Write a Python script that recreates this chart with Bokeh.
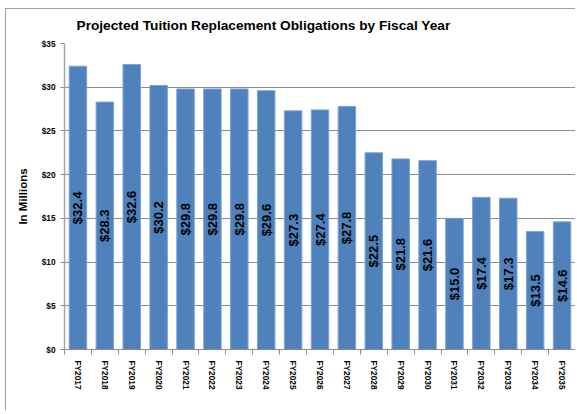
import math
from bokeh.plotting import figure
from bokeh.models import ColumnDataSource, FixedTicker, Range1d
from bokeh.core.properties import value
from bokeh.embed import file_html
from bokeh.resources import INLINE

title_text = "Projected Tuition Replacement Obligations by Fiscal Year"
y_axis_label = "In Millions"
years = ["FY2017", "FY2018", "FY2019", "FY2020", "FY2021", "FY2022", "FY2023",
         "FY2024", "FY2025", "FY2026", "FY2027", "FY2028", "FY2029", "FY2030",
         "FY2031", "FY2032", "FY2033", "FY2034", "FY2035"]
values = [32.4, 28.3, 32.6, 30.2, 29.8, 29.8, 29.8, 29.6, 27.3, 27.4, 27.8,
          22.5, 21.8, 21.6, 15.0, 17.4, 17.3, 13.5, 14.6]
y_ticks = [0, 5, 10, 15, 20, 25, 30, 35]
y_tick_labels = ["$0", "$5", "$10", "$15", "$20", "$25", "$30", "$35"]

FONT = "Liberation Sans"

xs = list(range(len(years)))
src = ColumnDataSource(dict(
    x=xs,
    v=values,
    mid=[v / 2 for v in values],
    lbl=["$%.1f" % v for v in values],
))

p = figure(width=575, height=410, output_backend="svg", toolbar_location=None,
           x_range=Range1d(-0.5, len(years) - 0.5), y_range=Range1d(0, 35),
           min_border_left=64, min_border_right=0, min_border_top=43,
           min_border_bottom=61)
p.stylesheets = [
    ":host { position: relative; } "
    ":host::after { content: ''; position: absolute; left: 5px; top: 8px; "
    "right: 0; bottom: 0; border-left: 1.5px solid #a0a0a0; "
    "border-top: 1.5px solid #a0a0a0; pointer-events: none; z-index: 10; }"
]
p.outline_line_color = None
p.background_fill_color = "white"
p.border_fill_color = "white"

p.title.text = title_text
p.title.align = "left"
p.title.offset = 12
p.title.vertical_align = "middle"
p.title.standoff = 20
p.title.text_font = FONT
p.title.text_font_size = "13.7px"
p.title.text_font_style = "bold"
p.title.text_color = "black"

p.vbar(x="x", top="v", width=0.65, source=src, fill_color="#4F81BD",
       line_color="#7EA3D4", line_width=1)
p.text(x="x", y="mid", text="lbl", angle=math.pi / 2, text_align="center",
       text_baseline="middle", text_font=value(FONT), text_font_size="13px",
       text_font_style="bold", text_color="black", source=src)

# x axis
xa = p.xaxis[0]
xa.ticker = FixedTicker(ticks=xs, minor_ticks=[i - 0.5 for i in range(len(years) + 1)])
xa.major_label_overrides = {i: y for i, y in zip(xs, years)}
xa.major_label_orientation = -math.pi / 2
xa.major_tick_out = 0
xa.major_tick_in = 0
xa.minor_tick_out = 5
xa.minor_tick_in = 0
xa.minor_tick_line_color = "#8c8c8c"
xa.axis_line_color = "#8c8c8c"
xa.major_label_standoff = 6
xa.major_label_text_font = FONT
xa.major_label_text_font_size = "8.3px"
xa.major_label_text_font_style = "bold"
xa.major_label_text_color = "black"

# y axis
ya = p.yaxis[0]
ya.ticker = FixedTicker(ticks=y_ticks, minor_ticks=[])
ya.major_label_overrides = {t: l for t, l in zip(y_ticks, y_tick_labels)}
ya.major_tick_out = 4
ya.major_tick_in = 0
ya.major_tick_line_color = "#8c8c8c"
ya.axis_line_color = "#a6a6a6"
ya.axis_line_width = 1.5
ya.major_label_standoff = 5
ya.major_label_text_font = FONT
ya.major_label_text_font_size = "8.3px"
ya.major_label_text_font_style = "bold"
ya.major_label_text_color = "black"
ya.axis_label = y_axis_label
ya.axis_label_text_font = FONT
ya.axis_label_text_font_size = "11.5px"
ya.axis_label_text_font_style = "bold"
ya.axis_label_text_color = "black"
ya.axis_label_standoff = 10

p.xgrid.grid_line_color = None
p.ygrid.grid_line_color = "#8c8c8c"
p.ygrid.grid_line_width = 1

open("out.html", "w").write(file_html(p, INLINE))
